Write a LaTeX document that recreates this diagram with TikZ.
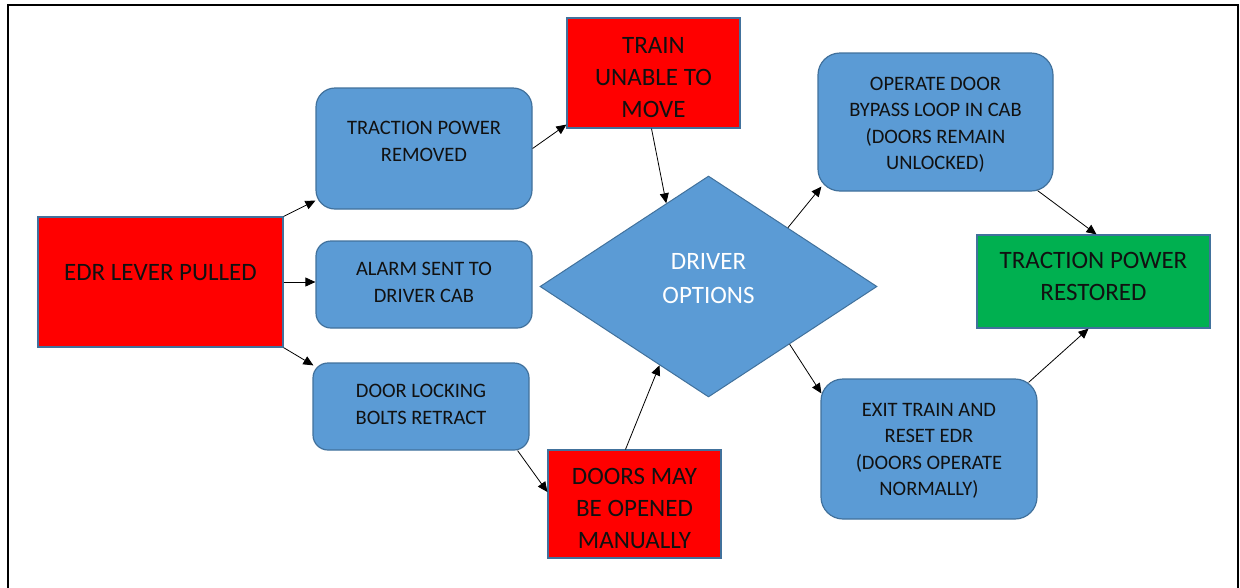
\documentclass[tikz,border=0pt]{standalone}
\usepackage{fontspec}
\setmainfont{Carlito}
\usetikzlibrary{calc,arrows.meta,shapes.geometric,positioning}
\definecolor{boxblue}{HTML}{5B9BD5}
\definecolor{edgeblue}{HTML}{41719C}
\definecolor{okgreen}{HTML}{00B050}
\definecolor{inktext}{HTML}{111111}
%% centred lines, lifted by #1 without changing the box
\newcommand{\lifted}[2]{\raisebox{#1}[\height][\depth]{\vbox{\let\\\cr\halign{\hfil##\hfil\cr#2\crcr}}}}

\begin{document}
\begin{tikzpicture} [x=1pt,y=-1pt,{redbox/.style={rectangle,draw=edgeblue,fill=red,line width=1.2pt,inner sep=0pt,text=inktext,font=\fontsize{25}{32}\selectfont}},{bluebox/.style={rectangle,rounded corners=19pt,draw=edgeblue,fill=boxblue,line width=1.2pt,inner sep=0pt,text=inktext,font=\fontsize{20.5}{26.5}\selectfont}},{greenbox/.style={redbox,fill=okgreen}},{choice/.style={diamond,draw=edgeblue,fill=boxblue,line width=1pt,inner sep=0pt,text=white,font=\fontsize{25}{34}\selectfont}},{linest/.style={-{Triangle[length=10pt,width=9pt]},color=black,line width=0.8pt}}]
	%%page and frame
	\useasboundingbox (0,0) rectangle (1240,587);
	\draw [line width=1.8pt] (8,590) -- (8,5) -- (1238,5) -- (1238,590);
	%%start
	\node [redbox,minimum width=245pt,minimum height=130pt] (edr) at (160.5,282) {\lifted{9pt}{EDR LEVER PULLED}};
	%%first consequences
	\node [bluebox,minimum width=216pt,minimum height=121pt] (tpr) at (424,148.5) {\lifted{7pt}{TRACTION POWER\\REMOVED}};
	\node [bluebox,rounded corners=15pt,minimum width=216pt,minimum height=87pt] (alarm) at (424,284.5) {\lifted{2pt}{ALARM SENT TO\\DRIVER CAB}};
	\node [bluebox,rounded corners=15pt,minimum width=216pt,minimum height=87pt] (bolts) at (421,406.5) {\lifted{2pt}{DOOR LOCKING\\BOLTS RETRACT}};
	\node [redbox,minimum width=173pt,minimum height=110pt] (unable) at (653.5,73) {\lifted{-5pt}{TRAIN\\UNABLE TO\\MOVE}};
	\node [redbox,minimum width=173pt,minimum height=108pt] (manual) at (634.5,504) {\lifted{-4pt}{DOORS MAY\\BE OPENED\\MANUALLY}};
	%%decision
	\node [choice,minimum width=337pt,minimum height=221pt] (opts) at (708.5,286.5) {\lifted{8pt}{DRIVER\\OPTIONS}};
	%%options
	\node [bluebox,rounded corners=22pt,minimum width=235pt,minimum height=138pt] (bypass) at (935.5,122) {\lifted{-3pt}{OPERATE DOOR\\BYPASS LOOP IN CAB\\(DOORS REMAIN\\UNLOCKED)}};
	\node [bluebox,rounded corners=22pt,minimum width=216pt,minimum height=140pt] (exit) at (929,449) {\lifted{-2pt}{EXIT TRAIN AND\\RESET EDR\\(DOORS OPERATE\\NORMALLY)}};
	%%end
	\node [greenbox,minimum width=233pt,minimum height=93pt] (restored) at (1093.5,281.5) {\lifted{5pt}{TRACTION POWER\\RESTORED}};
	%%arrows
	\draw [linest] (edr.north east) -- ($(tpr.south west)+(0,-9)$);
	\draw [linest] (edr.east) -- (edr.east -| alarm.west);
	\draw [linest] (edr.south east) -- ($(bolts.north west)+(1,3)$);
	\draw [linest] (tpr.east) -- ($(unable.south west)+(0,-4)$);
	\draw [linest] ($(unable.south)+(-2,0)$) -- ($(opts.north)!0.25!(opts.west)$);
	\draw [linest] ($(bolts.south east)+(-12,0)$) -- ($(manual.west)+(0,-12)$);
	\draw [linest] ($(manual.north)+(-9,0)$) -- ($(opts.south)!0.29!(opts.west)$);
	\draw [linest] ($(opts.north)!0.47!(opts.east)$) -- ($(bypass.south west)+(4,-5)$);
	\draw [linest] ($(opts.south)!0.48!(opts.east)$) -- ($(exit.north west)+(1,15)$);
	\draw [linest] ($(bypass.south east)+(-16,-1)$) -- ($(restored.north)+(3,0)$);
	\draw [linest] ($(exit.north east)+(-9,4)$) -- ($(restored.south)+(-5,0)$);
\end{tikzpicture}
\end{document}
